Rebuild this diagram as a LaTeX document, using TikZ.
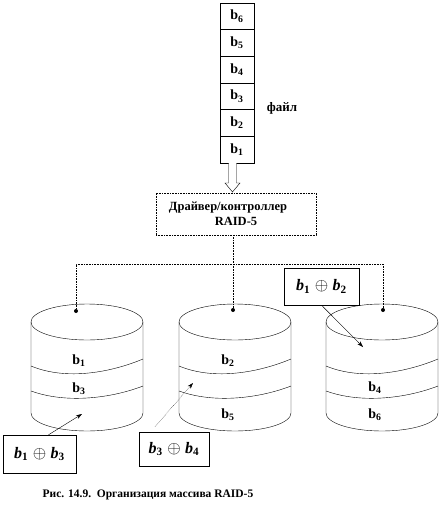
\documentclass[tikz,border=0pt]{standalone}
\usepackage{fontspec}
\setmainfont{Liberation Serif}
\usetikzlibrary{arrows.meta,calc}

\tikzset{
  blockbox/.style={draw, minimum width=34pt, minimum height=26.7pt, inner sep=0pt,
    font=\bfseries\fontsize{14}{15}\selectfont},
  xorbox/.style={draw, fill=white, inner sep=0pt, font=\fontsize{16}{18}\selectfont},
  disklabel/.style={font=\bfseries\fontsize{14}{15}\selectfont},
  busline/.style={dash pattern=on 0.8pt off 0.8pt},
  dot/.style={circle, fill, inner sep=0pt, minimum size=4pt},
}
\newcommand{\blk}[1]{b\textsubscript{#1}}
\newcommand{\xorpair}[2]{\textbf{\textit{b}}\textsubscript{\textbf{#1}}\;$\oplus$\;\textbf{\textit{b}}\textsubscript{\textbf{#2}}}

\begin{document}
\begin{tikzpicture}[x=1pt,y=-1pt,>={Stealth[length=6pt,width=4pt]}]
    \useasboundingbox (0,0) rectangle (440,515);
    % --- file: stack of blocks b1..b6 ---
    \foreach \i in {1,...,6}
        \node[blockbox] (b\i) at (237,{163-26.7*(\i-0.5)}) {\blk{\i}};
    \node[font=\bfseries\fontsize{13}{15}\selectfont] (file) at (282,108) {файл};
    % --- hollow arrow down to the driver ---
    \draw[fill=white] (228.5,163) -- (228.5,183) -- (225,183) -- (232.5,192)
        -- (240,183) -- (236.5,183) -- (236.5,163);
    % --- driver / controller ---
    \node[draw, busline, minimum width=160pt, minimum height=42pt, align=center,
        font=\bfseries\fontsize{12.5}{15}\selectfont] (drv) at (236,214)
        {Драйвер/контроллер\hspace*{16pt}\\RAID-5};
    % --- three disks ---
    \foreach \cx in {87,235,382} {
        \draw (\cx,322) ellipse [x radius=56pt, y radius=18pt];
        \draw (\cx-56,322) -- (\cx-56,413)
            arc[start angle=180, end angle=360, x radius=56pt, y radius=18pt] -- (\cx+56,322);
        \draw (\cx-56,366) .. controls (\cx-20,381) and (\cx+25,372) .. (\cx+56,359);
        \draw (\cx-56,391) .. controls (\cx-20,404) and (\cx+25,398) .. (\cx+56,386);
    }
    \node[disklabel] (l1) at (79,361) {\blk{1}};
    \node[disklabel] (l3) at (79,389) {\blk{3}};
    \node[disklabel] (l2) at (228,361) {\blk{2}};
    \node[disklabel] (l5) at (228,415) {\blk{5}};
    \node[disklabel] (l4) at (375,388) {\blk{4}};
    \node[disklabel] (l6) at (375,415) {\blk{6}};
    % --- bus from the driver to the disks ---
    \node[dot] (d1) at (76,311) {};
    \node[dot] (d2) at (233,310) {};
    \node[dot] (d3) at (383,310) {};
    \coordinate (j1) at (76,264);
    \coordinate (j3) at (383,264);
    \draw[busline] (d1) -- (j1) -- (j3) -- (d3);
    \draw[busline] (drv.south -| d2) -- (d2);
    % --- parity blocks ---
    \node[xorbox, minimum width=75pt, minimum height=37pt] (x12) at (321.5,286.5) {\xorpair{1}{2}};
    \node[xorbox, minimum width=73pt, minimum height=38pt] (x13) at (39.5,454) {\xorpair{1}{3}};
    \node[xorbox, minimum width=70pt, minimum height=34pt] (x34) at (174,449) {\xorpair{3}{4}};
    \coordinate (t1) at (82,414);
    \coordinate (t2) at (193,383);
    \coordinate (t3) at (363,347);
    \draw[->] (x12.south) -- (t3);
    \draw[->] ([xshift=9pt]x13.north) -- (t1);
    \draw[->,densely dotted] ([xshift=-19pt,yshift=5pt]x34.north) -- (t2);
    % --- caption ---
    \node[font=\bfseries\fontsize{11.5}{13}\selectfont] (cap) at (148,495)
        {Рис. 14.9.\ \ Организация массива RAID-5};
\end{tikzpicture}
\end{document}
